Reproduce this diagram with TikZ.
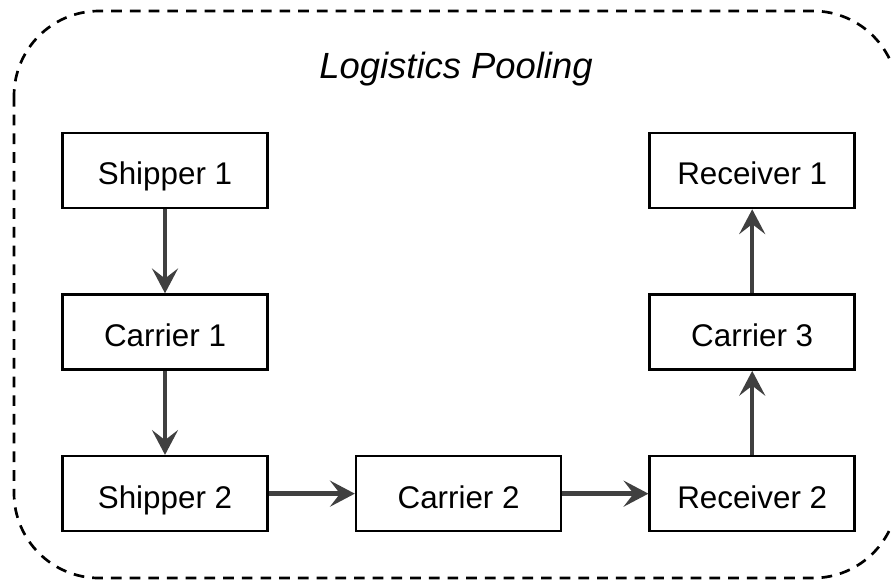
\documentclass[tikz,border=0pt]{standalone}
\usepackage{fontspec}
\setmainfont{Liberation Sans}
\usetikzlibrary{positioning,arrows.meta}
\definecolor{flowgray}{HTML}{404040}
\begin{document}
\begin{tikzpicture}[x=0.025cm,y=-0.025cm,
    node distance=2.1cm and 2.15cm,
    box/.style={draw,line width=1.8pt,minimum width=5.125cm,minimum height=1.875cm,
        text height=23pt,text depth=2.4pt,
        font=\fontsize{22.3}{26}\selectfont},
    flow/.style={draw=flowgray,line width=3.2pt,
        -{Stealth[length=0.62cm,width=0.65cm,inset=0.25cm]}}]
\useasboundingbox (0,0) rectangle (891,581);
\draw[line width=1.9pt,dash pattern=on 7.6pt off 5.7pt,rounded corners=2.125cm]
    (14,11) rectangle (898,578);
\node[anchor=base,font=\fontsize{25.9}{30}\selectfont\itshape] (title) at (456,78) {Logistics Pooling};
\node[box] (shipper1) at (165,170.5) {Shipper 1};
\node[box,below=of shipper1] (carrier1) {Carrier 1};
\node[box,below=of carrier1] (shipper2) {Shipper 2};
\node[box,right=of shipper2] (carrier2) {Carrier 2};
\node[box,right=of carrier2] (receiver2) {Receiver 2};
\node[box,above=of receiver2] (carrier3) {Carrier 3};
\node[box,above=of carrier3] (receiver1) {Receiver 1};
\draw[flow] (shipper1) -- (carrier1);
\draw[flow] (carrier1) -- (shipper2);
\draw[flow] (shipper2) -- (carrier2);
\draw[flow] (carrier2) -- (receiver2);
\draw[flow] (receiver2) -- (carrier3);
\draw[flow] (carrier3) -- (receiver1);
\end{tikzpicture}
\end{document}
